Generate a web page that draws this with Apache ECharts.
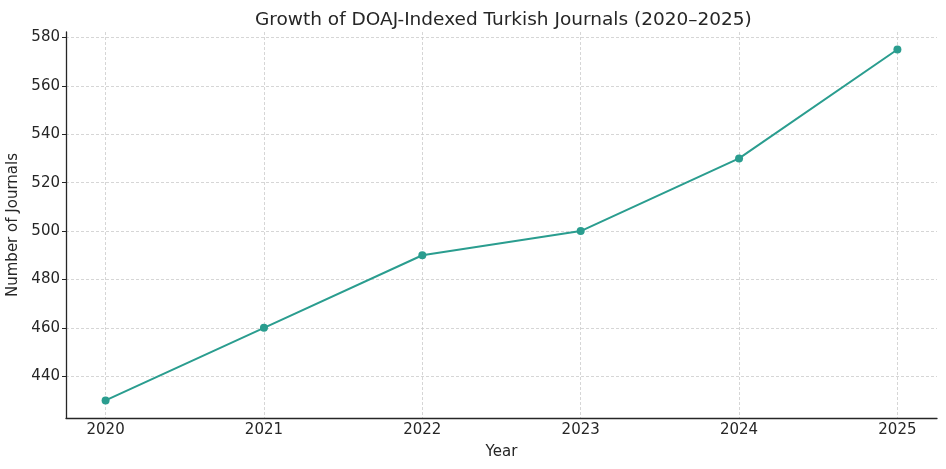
<!DOCTYPE html>
<html>
<head>
  <meta charset="UTF-8">
  <title>DOAJ Turkish Journals</title>
  <style>
    html, body { margin: 0; padding: 0; background: #fff; }
    #chart { width: 946px; height: 469px; }
  </style>
  <script src="https://cdn.jsdelivr.net/npm/echarts@6/dist/echarts.min.js"></script>
</head>
<body>
  <div id="chart"></div>
  <script>
    var years = [2020, 2021, 2022, 2023, 2024, 2025];
    var journals = [430, 460, 490, 500, 530, 575];
    var yTicks = [440, 460, 480, 500, 520, 540, 560, 580];

    var font = 'DejaVu Sans';
    var chart = echarts.init(document.getElementById('chart'));

    var points = [];
    for (var i = 0; i < years.length; i++) {
      points.push([years[i], journals[i]]);
    }

    var gridLine = { show: true, lineStyle: { color: '#cccccc', type: [3, 2], width: 0.8 } };

    chart.setOption({
      backgroundColor: '#fff',
      animation: false,
      title: {
        text: 'Growth of DOAJ-Indexed Turkish Journals (2020–2025)',
        left: 250,
        top: 6,
        textStyle: { fontFamily: font, fontSize: 18.5, fontWeight: 'normal', color: '#262626' }
      },
      grid: { left: 66, right: 9, top: 32, bottom: 51, outerBoundsMode: 'none', containLabel: false },
      xAxis: {
        type: 'value',
        min: 2019.75,
        max: 2025.25,
        name: 'Year',
        nameLocation: 'middle',
        nameGap: 27,
        nameTextStyle: { fontFamily: font, fontSize: 15, color: '#262626' },
        axisLine: { show: true, lineStyle: { color: '#262626', width: 1.3 } },
        axisTick: { show: false, customValues: years },
        axisLabel: {
          customValues: years, fontFamily: font, fontSize: 15, color: '#262626', margin: 5,
          formatter: function (v) { return String(v); }
        },
        splitLine: gridLine
      },
      yAxis: {
        type: 'value',
        min: 422.75,
        max: 582.25,
        name: 'Number of Journals',
        nameLocation: 'middle',
        nameGap: 39,
        nameTextStyle: { fontFamily: font, fontSize: 15, color: '#262626' },
        axisLine: { show: true, lineStyle: { color: '#262626', width: 1.3 } },
        axisTick: { show: true, customValues: yTicks, length: 4, lineStyle: { color: '#262626' } },
        axisLabel: { customValues: yTicks, fontFamily: font, fontSize: 15, color: '#262626', margin: 6 },
        splitLine: gridLine
      },
      series: [{
        type: 'line',
        data: points,
        symbol: 'circle',
        symbolSize: 8,
        lineStyle: { color: '#2a9d8f', width: 2 },
        itemStyle: { color: '#2a9d8f' }
      }]
    });
  </script>
</body>
</html>
